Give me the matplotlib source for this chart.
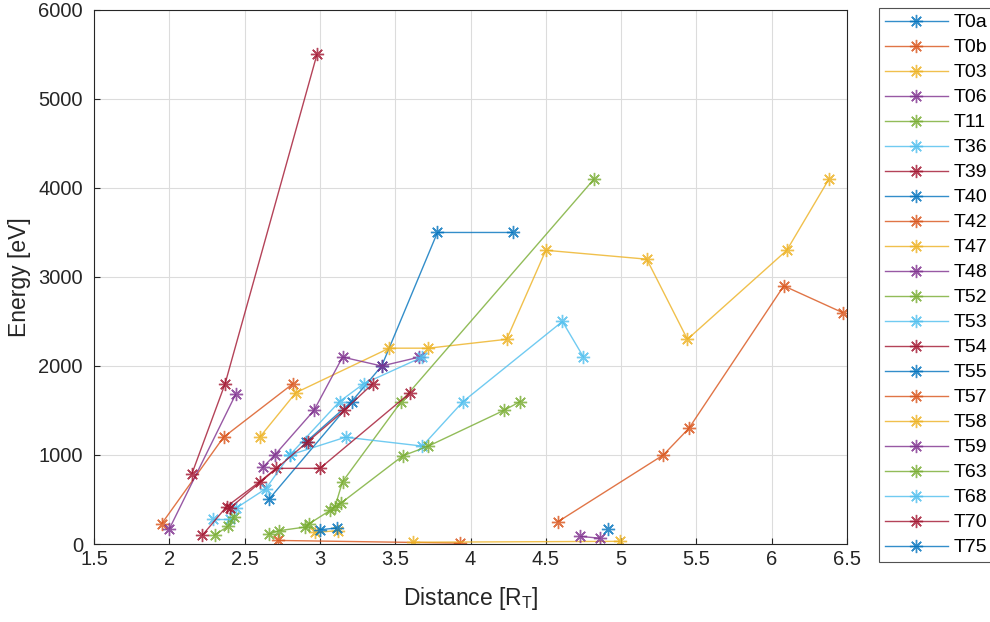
import numpy as np
from matplotlib import pyplot as plt

plt.rcParams['font.family'] = ['Liberation Sans', 'DejaVu Sans']

# MATLAB default line colours
colors = ['#0072BD', '#D95319', '#EDB120', '#7E2F8E', '#77AC30', '#4DBEEE', '#A2142F']

names = ['T0a', 'T0b', 'T03', 'T06', 'T11', 'T36', 'T39', 'T40', 'T42', 'T47', 'T48',
         'T52', 'T53', 'T54', 'T55', 'T57', 'T58', 'T59', 'T63', 'T68', 'T70', 'T75']

# distance [R_T] and energy [eV] per flyby
dist = {
    'T0a': [2.66, 3.41, 3.78, 4.28],
    'T0b': [1.95, 2.36, 2.82],
    'T03': [2.60, 2.84, 3.46, 3.72, 4.24, 4.50, 5.17, 5.44, 6.10, 6.38],
    'T06': [2.00, 2.44],
    'T11': [3.10, 3.15, 3.54, 4.82],
    'T36': [2.29, 2.40],
    'T39': [2.15, 2.37, 2.98],
    'T40': [2.91, 3.21],
    'T42': [2.72, 3.93],
    'T47': [2.97, 3.12],
    'T48': [2.62, 2.70, 2.96, 3.15, 3.41, 3.66],
    'T52': [2.30, 2.39, 2.43],
    'T53': [2.80, 3.17, 3.68, 3.95, 4.61, 4.75],
    'T54': [2.22, 2.38, 2.60, 2.71, 3.00, 3.60],
    'T55': [3.00, 3.11],
    'T57': [4.58, 5.28, 5.45, 6.08, 6.47],
    'T58': [3.62, 4.99],
    'T59': [4.73, 4.86],
    'T63': [2.66, 2.73, 2.90, 2.93, 3.07, 3.14, 3.55, 3.72, 4.22, 4.33],
    'T68': [2.44, 2.64, 2.80, 3.13, 3.29, 3.68],
    'T70': [2.40, 2.92, 3.16, 3.35],
    'T75': [4.91],
}
energy = {
    'T0a': [500, 2000, 3500, 3500],
    'T0b': [230, 1200, 1800],
    'T03': [1200, 1700, 2200, 2200, 2300, 3300, 3200, 2300, 3300, 4100],
    'T06': [170, 1680],
    'T11': [420, 700, 1600, 4100],
    'T36': [280, 280],
    'T39': [790, 1800, 5500],
    'T40': [1150, 1600],
    'T42': [40, 10],
    'T47': [130, 150],
    'T48': [860, 1000, 1500, 2100, 2000, 2100],
    'T52': [100, 200, 300],
    'T53': [1000, 1200, 1100, 1600, 2500, 2100],
    'T54': [100, 420, 700, 850, 850, 1700],
    'T55': [160, 180],
    'T57': [250, 1000, 1300, 2900, 2600],
    'T58': [20, 30],
    'T59': [85, 65],
    'T63': [110, 150, 190, 230, 380, 460, 990, 1100, 1500, 1600],
    'T68': [400, 620, 1000, 1600, 1800, 2100],
    'T70': [400, 1150, 1500, 1800],
    'T75': [170],
}

fig = plt.figure(figsize=(9.9, 6.22), dpi=100)
ax = fig.add_axes([0.095, 0.1254, 0.7606, 0.8586])

for i, n in enumerate(names):
    ax.plot(dist[n], energy[n], color=colors[i % 7], lw=1, alpha=0.8,
            marker=(8, 2, 0), markersize=9.5, markeredgewidth=1, label=n)

ax.set_xlim(1.5, 6.5)
ax.set_ylim(0, 6000)
ax.set_xticks(np.arange(1.5, 6.51, 0.5))
ax.set_xticklabels(['1.5', '2', '2.5', '3', '3.5', '4', '4.5', '5', '5.5', '6', '6.5'])
ax.set_yticks(np.arange(0, 6001, 1000))
ax.grid(True, color='#dcdcdc', lw=0.8)
ax.set_axisbelow(True)
ax.tick_params(direction='in', labelsize=14.5, colors='#262626', length=4)
ax.tick_params(axis='y', pad=8)
ax.tick_params(axis='x', pad=4)
for s in ax.spines.values():
    s.set_color('#262626')
    s.set_linewidth(0.8)
ax.set_xlabel('Distance [R$_\\mathregular{T}$]', fontsize=16.5, color='#262626', labelpad=12)
ax.set_ylabel('Energy [eV]', fontsize=16.5, color='#262626', labelpad=5)

leg = fig.legend(loc='upper left', bbox_to_anchor=(879 / 990, 1 - 8 / 622),
                 borderaxespad=0, fontsize=14, frameon=True, fancybox=False,
                 edgecolor='#262626', handlelength=3.24, labelspacing=0.38,
                 borderpad=0.3, handletextpad=0.28)
leg.get_frame().set_linewidth(0.8)

plt.savefig('out.png', dpi=100)
